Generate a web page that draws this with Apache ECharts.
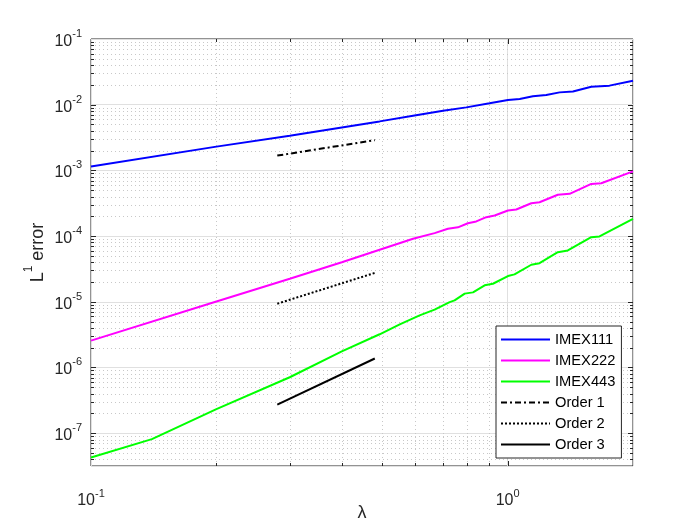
<!DOCTYPE html>
<html><head><meta charset="utf-8">
<script src="https://cdn.jsdelivr.net/npm/echarts@6/dist/echarts.min.js"></script>
<style>html,body{margin:0;padding:0;background:#fff}#c{width:700px;height:525px}</style>
</head><body><div id="c"></div>
<script>
// ---- data ----
const blueX  = [0.1, 0.2, 0.3, 0.493, 0.593, 0.70, 0.796, 0.905, 1.002, 1.069, 1.15, 1.238, 1.333, 1.435, 1.588, 1.756, 2.0];
const blueY  = [1.15e-3, 2.30e-3, 3.38e-3, 5.57e-3, 6.80e-3, 8.10e-3, 9.10e-3, 1.05e-2, 1.18e-2, 1.22e-2, 1.34e-2, 1.40e-2, 1.54e-2, 1.59e-2, 1.88e-2, 1.95e-2, 2.32e-2];
const pinkX  = [0.1, 0.2, 0.3, 0.4, 0.493, 0.593, 0.668, 0.719, 0.760, 0.803, 0.841, 0.889, 0.931, 1.002, 1.049, 1.140, 1.193, 1.320, 1.409, 1.588, 1.678, 2.0];
const pinkY  = [2.56e-6, 1.01e-5, 2.24e-5, 4.0e-5, 6.19e-5, 9.10e-5, 1.11e-4, 1.29e-4, 1.36e-4, 1.57e-4, 1.67e-4, 1.94e-4, 2.06e-4, 2.45e-4, 2.54e-4, 3.16e-4, 3.27e-4, 4.25e-4, 4.40e-4, 6.23e-4, 6.37e-4, 9.68e-4];
const greenX = [0.1, 0.14, 0.2, 0.3, 0.4, 0.493, 0.551, 0.615, 0.668, 0.726, 0.746, 0.789, 0.826, 0.881, 0.922, 1.002, 1.039, 1.140, 1.193, 1.320, 1.395, 1.588, 1.662, 2.0];
const greenY = [4.27e-8, 8.1e-8, 2.32e-7, 7.1e-7, 1.76e-6, 3.20e-6, 4.54e-6, 6.21e-6, 7.59e-6, 9.89e-6, 1.05e-5, 1.33e-5, 1.39e-5, 1.78e-5, 1.88e-5, 2.46e-5, 2.61e-5, 3.66e-5, 3.87e-5, 5.69e-5, 6.04e-5, 9.62e-5, 9.86e-5, 1.83e-4];
const refX    = [0.28, 0.48];
const order1Y = [1.68e-3, 2.88e-3];
const order2Y = [9.35e-6, 2.75e-5];
const order3Y = [2.72e-7, 1.37e-6];
const seriesNames = ['IMEX111', 'IMEX222', 'IMEX443', 'Order 1', 'Order 2', 'Order 3'];
const xMajorTicks = [1];
const xMinorTicks = [0.2, 0.3, 0.4, 0.5, 0.6, 0.7, 0.8, 0.9];
const yMajorTicks = [1e-7, 1e-6, 1e-5, 1e-4, 1e-3, 1e-2];
const yMinorTicks = [4e-8,5e-8,6e-8,7e-8,8e-8,9e-8,
  2e-7,3e-7,4e-7,5e-7,6e-7,7e-7,8e-7,9e-7,
  2e-6,3e-6,4e-6,5e-6,6e-6,7e-6,8e-6,9e-6,
  2e-5,3e-5,4e-5,5e-5,6e-5,7e-5,8e-5,9e-5,
  2e-4,3e-4,4e-4,5e-4,6e-4,7e-4,8e-4,9e-4,
  2e-3,3e-3,4e-3,5e-3,6e-3,7e-3,8e-3,9e-3,
  2e-2,3e-2,4e-2,5e-2,6e-2,7e-2,8e-2,9e-2];
const X_MIN = 0.1, X_MAX = 2;
const Y_MIN = Math.pow(10, -7.5), Y_MAX = 0.1;

// ---- chart ----
const FONT = "'Liberation Sans', Arial, Helvetica, sans-serif";
const AX = '#262626';
const zip = (xs, ys) => xs.map((x, i) => [x, ys[i]]);

function powLabel(v) {
  const e = Math.round(Math.log10(v));
  if (Math.abs(v - Math.pow(10, e)) / v > 1e-6) return '';
  return '{b|10}{s|' + e + '}';
}
const labelRich = {
  b: {fontSize: 16, fontFamily: FONT, color: AX, padding: [5, 0, 0, 0], verticalAlign: 'bottom'},
  s: {fontSize: 11, fontFamily: FONT, color: AX, verticalAlign: 'top'}
};

const crisp = v => Math.round(v) + 0.5;
const MINOR_GRID = '#c8c8c8';

function renderXTick(params, api) {
  const v = api.value(0), major = api.value(2);
  const b = api.coord([v, Y_MIN]), t = api.coord([v, Y_MAX]);
  const x = crisp(b[0]);
  const L = major ? 5 : 3;
  const ch = [];
  if (!major) ch.push({type: 'line', shape: {x1: x, y1: b[1], x2: x, y2: t[1]},
    style: {stroke: MINOR_GRID, lineWidth: 1, lineDash: [1, 3]}});
  ch.push({type: 'line', shape: {x1: x, y1: b[1], x2: x, y2: b[1] - L}, style: {stroke: AX, lineWidth: 1}});
  ch.push({type: 'line', shape: {x1: x, y1: t[1], x2: x, y2: t[1] + L}, style: {stroke: AX, lineWidth: 1}});
  return {type: 'group', children: ch};
}
function renderYTick(params, api) {
  const v = api.value(1), major = api.value(2);
  const l = api.coord([X_MIN, v]), r = api.coord([X_MAX, v]);
  const y = crisp(l[1]);
  const L = major ? 5 : 3;
  const ch = [];
  if (!major) ch.push({type: 'line', shape: {x1: l[0], y1: y, x2: r[0], y2: y},
    style: {stroke: MINOR_GRID, lineWidth: 1, lineDash: [1, 3]}});
  ch.push({type: 'line', shape: {x1: l[0], y1: y, x2: l[0] + L, y2: y}, style: {stroke: AX, lineWidth: 1}});
  ch.push({type: 'line', shape: {x1: r[0], y1: y, x2: r[0] - L, y2: y}, style: {stroke: AX, lineWidth: 1}});
  return {type: 'group', children: ch};
}

const xTickData = xMinorTicks.map(v => [v, Y_MAX, 0]).concat(xMajorTicks.map(v => [v, Y_MAX, 1]));
const yTickData = yMinorTicks.map(v => [X_MIN, v, 0]).concat(yMajorTicks.map(v => [X_MIN, v, 1]));

// legend icon: a 2px line (optionally dashed) inside a 49x14 box
const ICON_W = 49, ICON_H = 14;
function lineIcon(pattern) {
  let d = 'M0,0h0.01v0.01h-0.01z M' + ICON_W + ',' + ICON_H + 'h-0.01v-0.01h0.01z';
  const y0 = ICON_H / 2 - 1;
  if (!pattern) {
    d += ' M0,' + y0 + 'h' + ICON_W + 'v2h-' + ICON_W + 'z';
  } else {
    let x = 0, i = 0;
    while (x < ICON_W) {
      const len = Math.min(pattern[i % pattern.length], ICON_W - x);
      if (i % 2 === 0) d += ' M' + x + ',' + y0 + 'h' + len + 'v2h-' + len + 'z';
      x += pattern[i % pattern.length];
      i++;
    }
  }
  return 'path://' + d;
}

function lineSeries(name, xs, ys, color, type) {
  return {
    name, type: 'line', data: zip(xs, ys), symbol: 'none', z: 5, clip: true,
    lineStyle: {color, width: 2, type: type || 'solid', cap: 'butt'},
    itemStyle: {color}, emphasis: {disabled: true}
  };
}
const DASHDOT = [6, 3, 2, 3], DOTTED = [2, 2];
const legendColors = ['#0000ff', '#ff00ff', '#00ff00', '#000000', '#000000', '#000000'];
const legendPatterns = [null, null, null, DASHDOT, DOTTED, null];

const chart = echarts.init(document.getElementById('c'), null, {renderer: 'canvas'});
chart.setOption({
  animation: false,
  backgroundColor: '#ffffff',
  grid: {left: 91, right: 67, top: 39, bottom: 59, show: true, borderColor: AX, borderWidth: 1, backgroundColor: '#fff',
         containLabel: false, outerBoundsMode: 'none'},
  xAxis: {
    type: 'log', logBase: 10, min: X_MIN, max: X_MAX,
    axisLine: {show: false}, axisTick: {show: false},
    splitLine: {show: true, lineStyle: {color: '#e0e0e0', width: 1}},
    minorTick: {show: false}, minorSplitLine: {show: false},
    axisLabel: {formatter: powLabel, rich: labelRich, margin: 22, showMaxLabel: true},
    name: 'λ', nameLocation: 'middle', nameGap: 38, nameMoveOverlap: false,
    nameTextStyle: {fontFamily: FONT, fontSize: 18, color: AX}
  },
  yAxis: {
    type: 'log', logBase: 10, min: Y_MIN, max: Y_MAX,
    axisLine: {show: false}, axisTick: {show: false},
    splitLine: {show: true, lineStyle: {color: '#e0e0e0', width: 1}},
    minorTick: {show: false}, minorSplitLine: {show: false},
    axisLabel: {formatter: powLabel, rich: labelRich, margin: 9},
    name: '{n|L}{s|1}{n| error}', nameLocation: 'middle', nameGap: 44, nameRotate: 90, nameMoveOverlap: false,
    nameTextStyle: {
      rich: {
        n: {fontFamily: FONT, fontSize: 18, color: AX, padding: [6, 0, 0, 0], verticalAlign: 'bottom'},
        s: {fontFamily: FONT, fontSize: 12, color: AX, verticalAlign: 'top'}
      }
    }
  },
  legend: {
    orient: 'vertical', left: 496, top: 326,
    padding: [6, 6, 6, 5], itemGap: 6, itemWidth: ICON_W, itemHeight: ICON_H,
    borderColor: AX, borderWidth: 1, borderRadius: 0, backgroundColor: '#fff',
    itemStyle: {borderWidth: 0},
    textStyle: {fontFamily: FONT, fontSize: 14.7, color: '#000', lineHeight: 14},
    data: seriesNames.map((n, i) => ({name: n, icon: lineIcon(legendPatterns[i]), itemStyle: {color: legendColors[i], borderWidth: 0}})),
    selectedMode: false
  },
  series: [
    {type: 'custom', coordinateSystem: 'cartesian2d', renderItem: renderXTick, data: xTickData, z: 1, silent: true, clip: false},
    {type: 'custom', coordinateSystem: 'cartesian2d', renderItem: renderYTick, data: yTickData, z: 1, silent: true, clip: false},
    lineSeries(seriesNames[0], blueX, blueY, legendColors[0]),
    lineSeries(seriesNames[1], pinkX, pinkY, legendColors[1]),
    lineSeries(seriesNames[2], greenX, greenY, legendColors[2]),
    lineSeries(seriesNames[3], refX, order1Y, legendColors[3], DASHDOT),
    lineSeries(seriesNames[4], refX, order2Y, legendColors[4], DOTTED),
    lineSeries(seriesNames[5], refX, order3Y, legendColors[5])
  ]
});
</script>
</body></html>
